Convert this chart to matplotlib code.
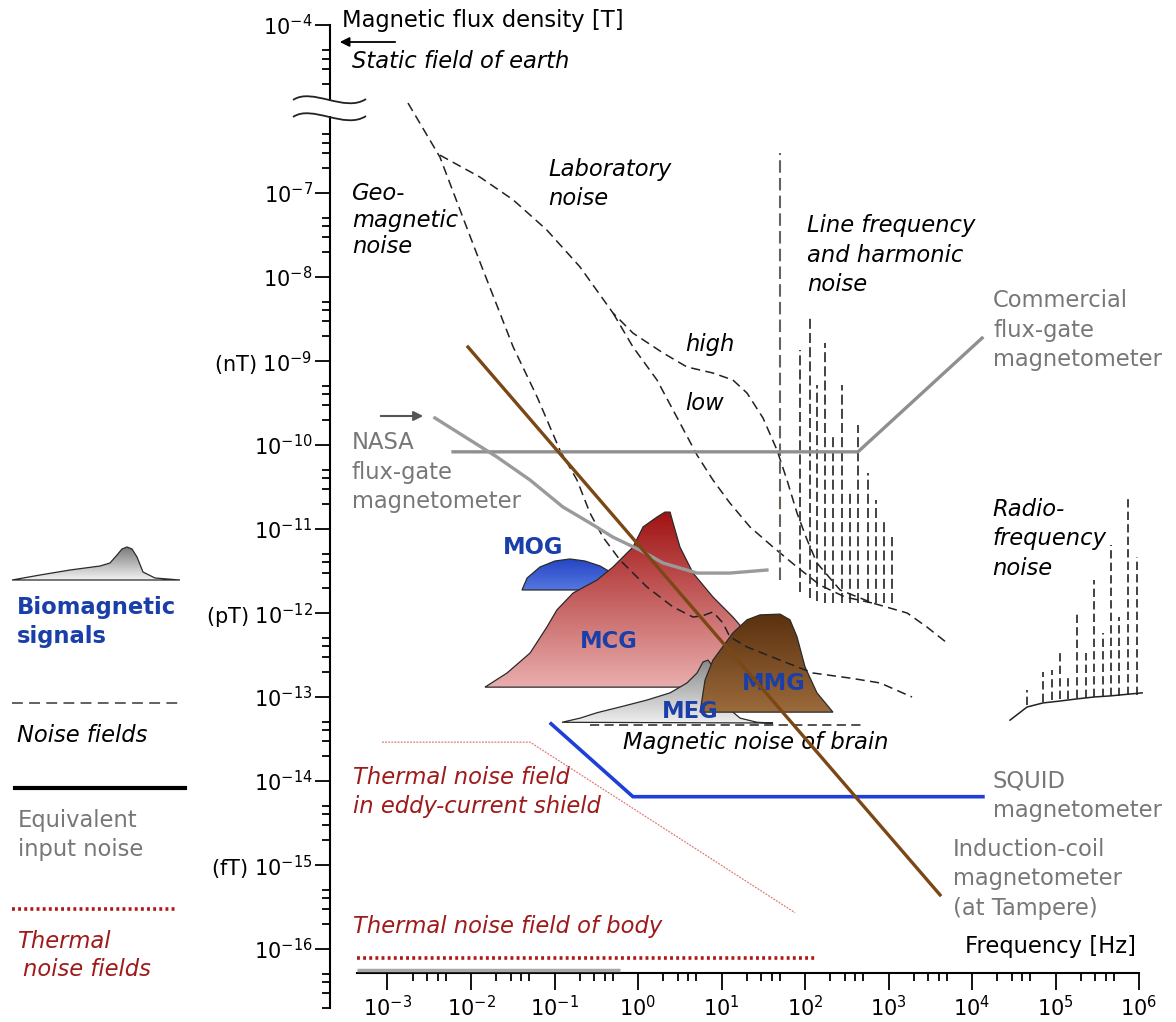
import numpy as np
import matplotlib.pyplot as plt
import matplotlib.transforms as mtransforms
from matplotlib.patches import Polygon, Rectangle, PathPatch
from matplotlib.path import Path
from matplotlib.colors import LinearSegmentedColormap
from matplotlib.ticker import FixedLocator, FixedFormatter, NullFormatter

plt.rcParams['font.family'] = 'DejaVu Sans'
plt.rcParams['mathtext.fontset'] = 'dejavusans'

# ---- data: frequency [Hz], flux density [T] ----
geo_f = [1.76e-3, 4.25e-3, 7.8e-3, 1.28e-2, 3.2e-2, 6.2e-2, 0.116, 0.186, 0.266, 0.381,
         0.608, 1.28, 2.63, 4.56, 6.0, 7.9, 10.4, 12.6, 20.2, 50, 125, 346, 791, 1910]
geo_B = [1.18e-6, 2.68e-7, 5.47e-8, 1.51e-8, 1.47e-9, 3.73e-10, 8.7e-11, 3.83e-11, 1.55e-11, 8.0e-12,
         4.28e-12, 2.04e-12, 1.18e-12, 8.95e-13, 9.3e-13, 1.03e-12, 7.6e-13, 5.2e-13, 3.94e-13,
         2.75e-13, 1.93e-13, 1.68e-13, 1.47e-13, 1.0e-13]

lab_hi_f = [4.25e-3, 1.28e-2, 3.2e-2, 8.1e-2, 0.202, 0.502, 0.871, 1.99, 3.86, 7.9, 13.7, 20.2,
            31.4, 46.2, 60.8, 80.2, 106, 139, 263, 652, 1670, 2890, 5020]
lab_hi_B = [2.83e-7, 1.55e-7, 8.3e-8, 3.63e-8, 1.32e-8, 3.73e-9, 2.15e-9, 1.25e-9, 8.5e-10, 7.2e-10,
            5.94e-10, 4.16e-10, 2.1e-10, 8.7e-11, 3.83e-11, 1.55e-11, 7.4e-12, 3.94e-12, 1.88e-12,
            1.31e-12, 1.0e-12, 6.8e-13, 4.4e-13]

lab_lo_f = [0.502, 0.871, 1.69, 3.18, 5.09, 7.9, 12.6, 21.9, 41.4, 80.2, 151, 301, 652]
lab_lo_B = [3.73e-9, 1.47e-9, 5.94e-10, 1.83e-10, 7.6e-11, 3.83e-11, 2.04e-11, 1.06e-11, 6.1e-12,
            3.53e-12, 2.15e-12, 1.55e-12, 1.31e-12]

line_f = [50, 87, 114, 139, 173, 216, 278, 348, 434, 573, 710, 883, 1114]
line_top = [3.0e-7, 1.35e-9, 3.5e-9, 5.2e-10, 1.64e-9, 1.4e-10, 5.2e-10, 2.9e-11, 1.73e-10,
            4.6e-11, 2.2e-11, 1.28e-11, 8.0e-12]
line_bot = [2.5e-12, 1.8e-12, 1.5e-12, 1.4e-12, 1.3e-12, 1.3e-12, 1.3e-12, 1.3e-12, 1.3e-12,
            1.3e-12, 1.3e-12, 1.3e-12, 1.3e-12]

rf_f = [4.56e4, 7.08e4, 9.08e4, 1.13e5, 1.41e5, 1.81e5, 2.32e5, 2.89e5, 3.71e5, 4.62e5,
        5.76e5, 7.38e5, 9.46e5]
rf_top = [1.21e-13, 1.99e-13, 2.1e-13, 3.43e-13, 1.83e-13, 1.0e-12, 3.34e-13, 2.47e-12,
          5.78e-13, 6.45e-12, 8.95e-13, 2.54e-11, 4.64e-12]
rf_bot = [8.0e-14, 8.7e-14, 9.2e-14, 9.5e-14, 9.5e-14, 9.7e-14, 9.7e-14, 1.0e-13, 1.0e-13,
          1.03e-13, 1.03e-13, 1.06e-13, 1.06e-13]
rf_base_f = [2.85e4, 4.56e4, 7.08e4, 1.13e5, 1.81e5, 2.89e5, 4.5e5, 1.09e6]
rf_base_B = [5.3e-14, 7.6e-14, 8.5e-14, 8.95e-14, 9.5e-14, 1.0e-13, 1.03e-13, 1.12e-13]

comm_f = [6.1e-3, 431, 1.32e4]
comm_B = [8.3e-11, 8.3e-11, 1.88e-9]

nasa_f = [3.7e-3, 2.05e-2, 5.1e-2, 0.126, 0.266, 0.502, 1.06, 1.99, 5.09, 12.6, 35]
nasa_B = [2.1e-10, 7.2e-11, 3.83e-11, 1.83e-11, 1.18e-11, 8.0e-12, 5.6e-12, 3.94e-12,
          2.99e-12, 2.99e-12, 3.25e-12]

coil_f = [9.2e-3, 4140]
coil_B = [1.47e-9, 4.4e-16]

squid_f = [0.091, 0.87, 1.35e4]
squid_B = [4.8e-14, 6.5e-15, 6.5e-15]

eddy_f = [8.6e-4, 5.1e-2, 76]
eddy_B = [2.9e-14, 2.9e-14, 2.7e-16]

body_f = [4.3e-4, 132]
body_B = [7.8e-17, 7.8e-17]

brain_f = [0.266, 523]
brain_B = [4.6e-14, 4.6e-14]

base_f = [4.3e-4, 0.61]
base_B = [5.6e-17, 5.6e-17]

mcg_f = [1.47e-2, 2.7e-2, 5.1e-2, 8.1e-2, 0.107, 0.167, 0.323, 0.502, 0.871, 1.15, 1.69, 2.1,
         2.42, 2.63, 3.18, 4.56, 7.9, 13.7, 21.9, 33.2, 43.7]
mcg_B = [1.31e-13, 1.93e-13, 3.34e-13, 6.8e-13, 1.09e-12, 1.73e-12, 2.47e-12, 3.53e-12, 6.1e-12,
         1.06e-11, 1.39e-11, 1.59e-11, 1.59e-11, 1.18e-11, 6.1e-12, 2.99e-12, 1.55e-12, 8.95e-13,
         5.2e-13, 2.75e-13, 1.31e-13]

mog_f = [4.08e-2, 4.7e-2, 6.7e-2, 0.101, 0.153, 0.232, 0.351, 0.489, 0.608]
mog_B = [1.88e-12, 2.61e-12, 3.53e-12, 4.16e-12, 4.4e-12, 4.16e-12, 3.63e-12, 2.99e-12, 1.88e-12]

mmg_f = [5.53, 6.35, 7.9, 13.7, 20.2, 28.9, 50.2, 66, 80.2, 100, 139, 216]
mmg_B = [6.6e-14, 1.59e-13, 2.75e-13, 5.8e-13, 8.3e-13, 9.5e-13, 9.7e-13, 8.3e-13, 5.2e-13,
         2.28e-13, 1.12e-13, 6.6e-14]

meg_f = [0.123, 0.202, 0.323, 0.608, 1.28, 2.42, 3.86, 5.09, 6.0, 6.9, 7.9, 9.1, 11.6, 16.7,
         26.6, 41.4]
meg_B = [5.0e-14, 5.6e-14, 6.5e-14, 7.6e-14, 9.2e-14, 1.12e-13, 1.47e-13, 1.93e-13, 2.61e-13,
         2.75e-13, 2.28e-13, 1.31e-13, 7.6e-14, 5.6e-14, 5.0e-14, 4.9e-14]

x_major = [1e-3, 1e-2, 1e-1, 1e0, 1e1, 1e2, 1e3, 1e4, 1e5, 1e6]
x_labels = [r'$\mathregular{10^{-3}}$', r'$\mathregular{10^{-2}}$', r'$\mathregular{10^{-1}}$',
            r'$\mathregular{10^{0}}$', r'$\mathregular{10^{1}}$', r'$\mathregular{10^{2}}$',
            r'$\mathregular{10^{3}}$', r'$\mathregular{10^{4}}$', r'$\mathregular{10^{5}}$',
            r'$\mathregular{10^{6}}$']
# axis is broken above 1e-6: the 10^-4 mark sits where 1e-5 would be
y_major = [1e-5, 1e-7, 1e-8, 1e-9, 1e-10, 1e-11, 1e-12, 1e-13, 1e-14, 1e-15, 1e-16]
y_labels = [r'$\mathregular{10^{-4}}$', r'$\mathregular{10^{-7}}$', r'$\mathregular{10^{-8}}$',
            r'(nT) $\mathregular{10^{-9}}$', r'$\mathregular{10^{-10}}$', r'$\mathregular{10^{-11}}$',
            r'(pT) $\mathregular{10^{-12}}$', r'$\mathregular{10^{-13}}$', r'$\mathregular{10^{-14}}$',
            r'(fT) $\mathregular{10^{-15}}$', r'$\mathregular{10^{-16}}$']

# ---- figure ----
W, H = 1176, 1022
fig = plt.figure(figsize=(W / 100, H / 100), dpi=100)
ax = fig.add_axes([0, 0, 1, 1])
ax.set_xscale('log')
ax.set_yscale('log')
ax.set_xlim(2.29e-8, 2.77e6)
ax.set_ylim(1.35e-17, 1.99e-5)
# pixel coordinates, origin top-left, for annotations
pix = mtransforms.Affine2D().scale(1 / W, -1 / H).translate(0, 1) + fig.transFigure

FS = 16.3
GRAY_TXT = '#777777'
DRED = '#9e1b1b'
BLUE = '#1b3fa8'
DASH = (0, (6, 3.5))

# axes
for s in ['top', 'right']:
    ax.spines[s].set_visible(False)
ax.spines['left'].set_position(('data', 2.05e-4))
ax.spines['left'].set_bounds(2e-17, 1e-5)
ax.spines['bottom'].set_position(('data', 5.2e-17))
ax.spines['bottom'].set_bounds(4.3e-4, 1e6)
for s in ['left', 'bottom']:
    ax.spines[s].set_linewidth(1.5)

ax.xaxis.set_major_locator(FixedLocator(x_major))
ax.xaxis.set_major_formatter(FixedFormatter(x_labels))
ax.xaxis.set_minor_locator(FixedLocator([m * 10.0 ** k for k in range(-3, 6) for m in (2, 3, 4, 5)]))
ax.xaxis.set_minor_formatter(NullFormatter())
ax.yaxis.set_major_locator(FixedLocator(y_major))
ax.yaxis.set_major_formatter(FixedFormatter(y_labels))
ax.yaxis.set_minor_locator(FixedLocator([m * 10.0 ** k for k in range(-17, -6) for m in (2, 3, 4, 5)]
                                        + [2e-6, 3e-6, 4e-6, 5e-6]))
ax.yaxis.set_minor_formatter(NullFormatter())
ax.tick_params(axis='y', which='major', length=11, width=1.3, pad=1.5, labelsize=15)
ax.tick_params(axis='y', which='minor', length=6, width=1.3)
ax.tick_params(axis='x', which='major', length=12, width=1.3, pad=4, labelsize=15)
ax.tick_params(axis='x', which='minor', length=6, width=1.3)

# axis break
ax.add_patch(Rectangle((320, 101), 20, 15, transform=pix, facecolor='white', edgecolor='none',
                       zorder=5, clip_on=False))
for yb in (100, 117):
    wave = Path([(293, yb), (312, yb - 13), (345, yb + 13), (366, yb - 1)],
                [Path.MOVETO, Path.CURVE4, Path.CURVE4, Path.CURVE4])
    ax.add_patch(PathPatch(wave, transform=pix, facecolor='none', edgecolor='#222222', lw=1.3,
                           zorder=6, clip_on=False))


def gradient_patch(xs, ys, top, bottom, z, trans=None):
    trans = ax.transData if trans is None else trans
    pts = np.column_stack([xs, ys])
    poly = Polygon(pts, closed=True, transform=trans, facecolor='none', edgecolor='#2a2a2a',
                   lw=0.9, zorder=z + 0.1)
    ax.add_patch(poly)
    pp = pix.inverted().transform(trans.transform(pts))
    x0, x1 = pp[:, 0].min(), pp[:, 0].max()
    y0, y1 = pp[:, 1].min(), pp[:, 1].max()
    cmap = LinearSegmentedColormap.from_list('g', [top, bottom])
    im = ax.imshow(np.linspace(0, 1, 200).reshape(-1, 1), cmap=cmap, extent=(x0, x1, y1, y0),
                   origin='upper', transform=pix, aspect='auto', zorder=z, interpolation='bilinear')
    im.set_clip_path(poly)


# biomagnetic signals
gradient_patch(mog_f, mog_B, '#2444c4', '#5577e0', 1)
gradient_patch(mcg_f, mcg_B, '#a01212', '#e9adad', 2)
gradient_patch(meg_f, meg_B, '#8a8a8a', '#eeeeee', 3)
gradient_patch(mmg_f, mmg_B, '#5a300e', '#9b6a3c', 4)

# noise fields
ax.plot(geo_f, geo_B, color='#222222', lw=1.1, linestyle=DASH, zorder=7)
ax.plot(lab_hi_f, lab_hi_B, color='#222222', lw=1.1, linestyle=DASH, zorder=7)
ax.plot(lab_lo_f, lab_lo_B, color='#222222', lw=1.1, linestyle=DASH, zorder=7)
ax.plot(brain_f, brain_B, color='#222222', lw=1.1, linestyle=DASH, zorder=7)
ax.vlines(line_f[:1], line_bot[:1], line_top[:1], colors='#6a605c', lw=1.5, linestyles=[(0, (6, 2.5))], zorder=7)
ax.vlines(line_f[1:], line_bot[1:], line_top[1:], colors='#222222', lw=1.2, linestyles=[(0, (6, 2.5))], zorder=7)
ax.vlines(rf_f, rf_bot, rf_top, colors='#222222', lw=1.2, linestyles=[(0, (5, 2.5))], zorder=7)
ax.plot(rf_base_f, rf_base_B, color='#222222', lw=1.1, zorder=7)

# thermal noise
ax.plot(eddy_f, eddy_B, color='#e07a7a', lw=0.9, linestyle=(0, (1.5, 1)), zorder=7)
ax.plot(body_f, body_B, color='#b01818', lw=2.6, linestyle=(0, (0.8, 0.9)), zorder=7)

# equivalent input noise of instruments
ax.plot(base_f, base_B, color='#a8a8a8', lw=2.5, zorder=4, solid_capstyle='butt')
ax.plot(comm_f, comm_B, color='#8f8f8f', lw=2.4, zorder=8)
ax.plot(nasa_f, nasa_B, color='#9a9a9a', lw=2.4, zorder=8)
ax.plot(squid_f, squid_B, color='#1f3fd6', lw=2.6, zorder=8)
ax.plot(coil_f, coil_B, color='#7b4714', lw=2.4, zorder=9)

# arrows
ax.annotate('', xy=(337, 42), xytext=(398, 42), xycoords=pix, textcoords=pix,
            arrowprops=dict(arrowstyle='-|>', color='black', lw=1.3, mutation_scale=14))
ax.annotate('', xy=(426, 416), xytext=(378, 416), xycoords=pix, textcoords=pix,
            arrowprops=dict(arrowstyle='-|>', color='#555555', lw=1.5, mutation_scale=14))


def label(x, y, s, color='black', style='normal', weight='normal', ha='left', size=FS, ls=1.35, z=6):
    ax.text(x, y, s, transform=pix, color=color, fontstyle=style, fontweight=weight, ha=ha,
            va='center', fontsize=size, linespacing=ls, zorder=z)


label(342, 20, 'Magnetic flux density [T]')
label(352, 62, 'Static field of earth', style='italic')
label(352, 220, 'Geo-\nmagnetic\nnoise', style='italic', ls=1.2)
label(548, 184, 'Laboratory\nnoise', style='italic')
label(807, 255, 'Line frequency\nand harmonic\nnoise', style='italic')
label(685, 345, 'high', style='italic')
label(685, 403, 'low', style='italic')
label(993, 330, 'Commercial\nflux-gate\nmagnetometer', color=GRAY_TXT)
label(352, 472, 'NASA\nflux-gate\nmagnetometer', color=GRAY_TXT)
label(992, 539, 'Radio-\nfrequency\nnoise', style='italic')
label(503, 547, 'MOG', color=BLUE, weight='bold')
label(580, 642, 'MCG', color=BLUE, weight='bold')
label(742, 683, 'MMG', color=BLUE, weight='bold')
label(662, 711, 'MEG', color=BLUE, weight='bold')
label(623, 743, 'Magnetic noise of brain', style='italic')
label(353, 792, 'Thermal noise field\nin eddy-current shield', color=DRED, style='italic')
label(993, 796, 'SQUID\nmagnetometer', color=GRAY_TXT)
label(953, 879, 'Induction-coil\nmagnetometer\n(at Tampere)', color=GRAY_TXT)
label(353, 927, 'Thermal noise field of body', color=DRED, style='italic')
label(1136, 947, 'Frequency [Hz]', ha='right')

# legend on the left
leg_x = [12, 40, 70, 100, 110, 117, 122, 127, 132, 137, 143, 155, 180]
leg_y = [580, 575, 570, 566, 563, 555, 549, 547, 549, 557, 572, 578, 580]
gradient_patch(leg_x, leg_y, '#7a7a7a', '#f2f2f2', 1, trans=pix)
label(17, 622, 'Biomagnetic\nsignals', color=BLUE, weight='bold')
ax.plot([12, 183], [703, 703], transform=pix, color='#555555', lw=1.3, linestyle=DASH, clip_on=False)
label(17, 736, 'Noise fields', style='italic')
ax.plot([15, 185], [788, 788], transform=pix, color='black', lw=3, clip_on=False)
label(18, 835, 'Equivalent\ninput noise', color=GRAY_TXT)
ax.plot([12, 177], [909, 909], transform=pix, color='#b01818', lw=2.6, linestyle=(0, (0.8, 0.9)),
        clip_on=False)
label(17, 941, 'Thermal', color=DRED, style='italic')
label(23, 970, 'noise fields', color=DRED, style='italic')

fig.savefig('out.png', dpi=100, facecolor='white')
